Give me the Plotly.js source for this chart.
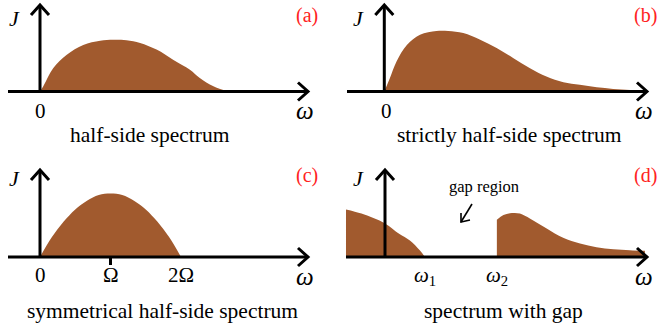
<!DOCTYPE html>
<html>
<head>
<meta charset="utf-8">
<script src="https://cdn.plot.ly/plotly-3.0.1.min.js"></script>
<style>
  html, body { margin: 0; padding: 0; background: #fff; }
</style>
</head>
<body>
<div id="spectra" style="width:659px;height:327px"></div>
<script>
// spectral densities J(w) (w in arbitrary units)
const omegaA = [0, 0.07, 0.28, 0.57, 0.92, 1.28, 1.56, 1.84, 2.13, 2.48, 2.84, 3.19, 3.40, 3.69, 4.0];
const jA     = [0, 0.10, 0.45, 0.71, 0.90, 0.98, 1.00, 0.99, 0.94, 0.81, 0.61, 0.42, 0.26, 0.10, 0];

const omegaB = [0, 0.12, 0.26, 0.48, 0.76, 1.11, 1.36, 1.68, 2.04, 2.39, 2.74, 3.10, 3.45, 3.81, 4.16, 4.52, 4.87, 5.23, 5.55];
const jB     = [0, 0.26, 0.58, 0.90, 1.10, 1.17, 1.17, 1.13, 1.00, 0.84, 0.65, 0.45, 0.29, 0.18, 0.13, 0.08, 0.05, 0.03, 0.01];

const omegaC = [0, 0.25, 0.5, 0.75, 1.0, 1.25, 1.5, 1.75, 2.0, 2.25, 2.5, 2.75, 3.0];
const jC     = [0, 0.38, 0.68, 0.92, 1.09, 1.20, 1.23, 1.20, 1.09, 0.92, 0.68, 0.38, 0];

const omegaD1 = [-0.83, -0.5, 0, 0.3, 0.53, 0.74, 0.85];
const jD1     = [0.92, 0.84, 0.65, 0.45, 0.32, 0.13, 0];
const omegaD2 = [2.38, 2.52, 2.70, 2.87, 3.09, 3.44, 3.79, 4.15, 4.50, 4.86, 5.21, 5.53];
const jD2     = [0.72, 0.81, 0.85, 0.84, 0.74, 0.55, 0.37, 0.26, 0.19, 0.15, 0.13, 0.12];

const tickValsC = [0, 1.5, 3.0];
const tickTextC = ['0', 'Ω', '2Ω'];
const tickValsD = [0.85, 2.38];
const tickTextD = ['<i>ω</i><sub>1</sub>', '<i>ω</i><sub>2</sub>'];

const panelCaptions = ['half-side spectrum', 'strictly half-side spectrum',
                       'symmetrical half-side spectrum', 'spectrum with gap'];
const panelTags = ['(a)', '(b)', '(c)', '(d)'];

(function drawSpectra() {
  const W = 659, H = 327, SX = 47, SY = 51.7;
  const brown = '#a15a2e';
  const serif = 'Liberation Serif';

  // origin (w=0, J=0) and box of each panel, in pixels
  const boxes = [
    { x0: 40,    y0: 91.5, l: 0,   r: 330, t: 0,   b: 160, xs: 8,   xt: 308, yt: 5   },
    { x0: 384.3, y0: 91.5, l: 330, r: 659, t: 0,   b: 160, xs: 347, xt: 647, yt: 5   },
    { x0: 40,    y0: 257,  l: 0,   r: 330, t: 160, b: 327, xs: 8,   xt: 308, yt: 170 },
    { x0: 385,   y0: 257,  l: 330, r: 659, t: 160, b: 327, xs: 346, xt: 647, yt: 170 }
  ];

  const fx = x => x / W;
  const fy = y => 1 - y / H;

  const fig = {
    width: W, height: H,
    margin: { l: 0, r: 0, t: 0, b: 0 },
    showlegend: false,
    shapes: [], annotations: []
  };

  const label = (text, x, y, size, opts) => fig.annotations.push(Object.assign({
    text: text, x: x, y: fy(y), xref: 'paper', yref: 'paper',
    xanchor: 'center', yanchor: 'middle', showarrow: false,
    font: { family: serif, size: size, color: '#000' }
  }, opts || {}));

  boxes.forEach((p, i) => {
    const n = i === 0 ? '' : String(i + 1);
    fig['xaxis' + n] = {
      visible: false,
      domain: [fx(p.l), fx(p.r)],
      range: [(p.l - p.x0) / SX, (p.r - p.x0) / SX],
      anchor: 'y' + n
    };
    fig['yaxis' + n] = {
      visible: false,
      domain: [fy(p.b), fy(p.t)],
      range: [(p.y0 - p.b) / SY, (p.y0 - p.t) / SY],
      anchor: 'x' + n
    };

    const axLine = { color: '#000', width: 3 };
    // w axis with open arrow head
    fig.shapes.push({ type: 'line', xref: 'paper', yref: 'paper',
      x0: fx(p.xs), y0: fy(p.y0), x1: fx(p.xt), y1: fy(p.y0), line: axLine });
    fig.shapes.push({ type: 'path', xref: 'paper', yref: 'paper', line: axLine,
      path: `M${fx(p.xt - 10)},${fy(p.y0 - 9)} L${fx(p.xt)},${fy(p.y0)} L${fx(p.xt - 10)},${fy(p.y0 + 9)}` });
    // J axis
    fig.shapes.push({ type: 'line', xref: 'paper', yref: 'paper',
      x0: fx(p.x0), y0: fy(p.y0), x1: fx(p.x0), y1: fy(p.yt), line: axLine });
    fig.shapes.push({ type: 'path', xref: 'paper', yref: 'paper', line: axLine,
      path: `M${fx(p.x0 - 9)},${fy(p.yt + 10)} L${fx(p.x0)},${fy(p.yt)} L${fx(p.x0 + 9)},${fy(p.yt + 10)}` });

    label('<i>J</i>', fx(p.x0 - 26), p.t + 18, 22);
    label(panelTags[i], fx(p.r - 23 + (i % 2 ? 9 : 0)), p.t + 16, 20,
      { font: { family: serif, size: 20, color: '#f22' } });
    label('<i>ω</i>', fx(p.xt - 3), p.y0 + 19, 25);
    const shift = [-15, 15, -3, 9][i];
    label(panelCaptions[i], fx((p.l + p.r) / 2 + shift), p.y0 + 44 + (i > 1 ? 10 : 0), 21.5);
  });

  // tick labels, placed through the axes
  label('0', 0, 111, 21, { xref: 'x' });
  label('0', 0.05, 111, 21, { xref: 'x2' });
  tickValsC.forEach((v, k) => label(tickTextC[k], v, 275, 21, { xref: 'x3' }));
  tickValsD.forEach((v, k) => label(tickTextD[k], v, 276, 21, { xref: 'x4' }));

  // small tick at Omega
  fig.shapes.push({ type: 'line', xref: 'x3', yref: 'paper', x0: tickValsC[1], x1: tickValsC[1],
    y0: fy(257), y1: fy(265), line: { color: '#000', width: 3 } });

  // gap region label and arrow
  label('gap region', fx(484), 186, 16.5);
  const thin = { color: '#000', width: 1.6 };
  fig.shapes.push({ type: 'line', xref: 'paper', yref: 'paper',
    x0: fx(472), y0: fy(204), x1: fx(461), y1: fy(222), line: thin });
  fig.shapes.push({ type: 'path', xref: 'paper', yref: 'paper', line: thin,
    path: `M${fx(461)},${fy(213)} L${fx(461)},${fy(222)} L${fx(470)},${fy(220)}` });

  const area = (x, y, xa, ya) => ({
    x: x, y: y, xaxis: xa, yaxis: ya, type: 'scatter', mode: 'lines',
    fill: 'tozeroy', fillcolor: brown, line: { width: 0, shape: 'spline', color: brown },
    hoverinfo: 'skip'
  });

  Plotly.newPlot('spectra', [
    area(omegaA, jA, 'x', 'y'),
    area(omegaB, jB, 'x2', 'y2'),
    area(omegaC, jC, 'x3', 'y3'),
    area(omegaD1, jD1, 'x4', 'y4'),
    area(omegaD2, jD2, 'x4', 'y4')
  ], fig, { displayModeBar: false });
})();
</script>
</body>
</html>
